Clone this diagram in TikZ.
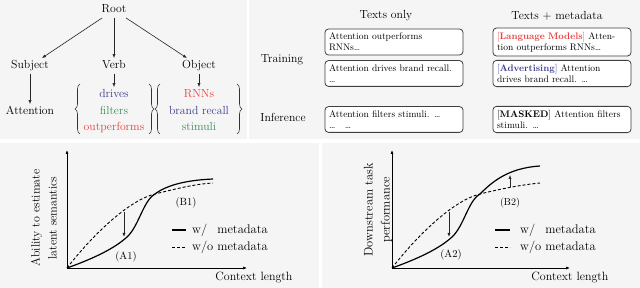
\documentclass[tikz,border=0pt]{standalone}
\usetikzlibrary{arrows.meta,decorations.pathreplacing}
\definecolor{panelgray}{HTML}{F5F5F5}
\definecolor{myred}{HTML}{E8403C}
\definecolor{myblue}{HTML}{3B3B8F}
\definecolor{mygreen}{HTML}{3A8A5C}
\newcommand\tlfont{\fontsize{11.7}{14}\selectfont}
\newcommand\boxfont{\fontsize{9.5}{11}\selectfont}
\newcommand\axfont{\fontsize{12}{17}\selectfont}
\newcommand\legfont{\fontsize{12.5}{14}\selectfont}
\newcommand\ptfont{\fontsize{10.5}{12}\selectfont}
\begin{document}
\begin{tikzpicture}[x=1pt,y=-1pt,
  panel/.style={fill=panelgray,draw=none},
  word/.style={font=\tlfont,inner sep=2.5pt,text height=8pt,text depth=2.5pt},
  arr/.style={-{Latex[length=4pt,width=3.2pt]},line width=0.6pt,black!85},
  txtbox/.style={draw=black!75,line width=0.8pt,rounded corners=3.5pt,fill=white,
    minimum width=138pt,minimum height=24pt,text width=130pt,align=left,
    inner sep=4pt,font=\boxfont},
  hdr/.style={font=\tlfont},
  axis/.style={-{Latex[length=4pt,width=3pt]},line width=0.7pt},
  solidc/.style={line width=1.2pt},
  dashc/.style={line width=0.9pt,dash pattern=on 3pt off 2pt},
  brc/.style={decorate,decoration={brace,amplitude=5pt},line width=0.6pt,black!80}]
\useasboundingbox (0,0) rectangle (640,288);
\fill[white] (0,0) rectangle (640,288);
\fill[panel] (0,0) rectangle (247,139);
\fill[panel] (249,0) rectangle (640,139);
\fill[panel] (0,143) rectangle (319,288);
\fill[panel] (322,143) rectangle (640,288);

% ---------- top-left tree ----------
\node[word] (root) at (114,10) {Root};
\node[word] (subj) at (30,66) {Subject};
\node[word] (verb) at (114,66) {Verb};
\node[word] (obj) at (199,66) {Object};
\node[word] (att) at (30,112) {Attention};
\node[word,text=myblue] (drives) at (114,95) {drives};
\node[word,text=mygreen] (filters) at (114,112) {filters};
\node[word,text=myred] (outp) at (114,128) {outperforms};
\node[word,text=myred] (rnns) at (199,95) {RNNs};
\node[word,text=myblue] (brand) at (199,112) {brand recall};
\node[word,text=mygreen] (stim) at (199,128) {stimuli};
\draw[arr] (root) -- (subj);
\draw[arr] (root) -- (verb);
\draw[arr] (root) -- (obj);
\draw[arr] (subj) -- (att);
\draw[arr] (verb) -- (drives);
\draw[arr] (obj) -- (rnns);
\draw[brc] (80,134) -- (80,84);
\draw[brc] (149,84) -- (149,134);
\draw[brc] (160,134) -- (160,84);
\draw[brc] (237,84) -- (237,134);

% ---------- top-right table ----------
\node[hdr] (h1) at (386,16) {Texts only};
\node[hdr] (h2) at (557,16) {Texts + metadata};
\node[hdr] (train) at (282,60) {Training};
\node[hdr] (infer) at (283,117) {Inference};
\node[txtbox] (t1) at (394,42) {Attention outperforms\\RNNs\ldots};
\node[txtbox] (t2) at (394,73.5) {Attention drives brand recall.\\\ldots};
\node[txtbox] (t3) at (394,119.5) {Attention filters stimuli. \ldots\\\ldots\quad\ldots};
\node[txtbox] (m1) at (562,42) {\textcolor{myred}{[\textbf{Language Models}]} Atten-\\tion outperforms RNNs\ldots};
\node[txtbox] (m2) at (562,73.5) {\textcolor{myblue}{[\textbf{Advertising}]} Attention\\drives brand recall. \ldots};
\node[txtbox] (m3) at (562,119.5) {[\textbf{MASKED}] Attention filters\\stimuli. \ldots};

% ---------- bottom-left plot ----------
\coordinate (o1) at (67,268);
\coordinate (y1) at (67,150);
\coordinate (x1) at (247,268);
\draw[axis] (o1) -- (y1);
\draw[axis] (o1) -- (x1);
\draw[solidc] (o1) .. controls (95,258) and (115,248) .. (127,237)
  .. controls (139,226) and (143,201) .. (155,194)
  .. controls (168,184) and (190,180) .. (213,179);
\draw[dashc] (o1) .. controls (95,232) and (130,200) .. (155,194)
  .. controls (175,189) and (195,184) .. (213,183);
\coordinate (a1s) at (124,212);
\coordinate (a1e) at (124,237);
\draw[arr,line width=0.8pt] (a1s) -- (a1e);
\node[font=\ptfont] (A1) at (126,257) {(A1)};
\node[font=\ptfont] (B1) at (186,203) {(B1)};
\coordinate (l1a) at (172,230); \coordinate (l1b) at (186,230);
\coordinate (l2a) at (172,247); \coordinate (l2b) at (186,247);
\draw[solidc] (l1a) -- (l1b);
\draw[dashc] (l2a) -- (l2b);
\node[font=\legfont,anchor=west,inner sep=0pt] (lg1) at (192,230) {w/\phantom{o} metadata};
\node[font=\legfont,anchor=west,inner sep=0pt] (lg2) at (192,247) {w/o metadata};
\node[font=\axfont] (cl1) at (254,278) {Context length};
\node[font=\axfont,rotate=90,align=center] (yl1) at (44,218) {Ability to estimate\\latent semantics};

% ---------- bottom-right plot ----------
\coordinate (o2) at (392,268);
\coordinate (y2) at (392,150);
\coordinate (x2) at (570,268);
\draw[axis] (o2) -- (y2);
\draw[axis] (o2) -- (x2);
\draw[solidc] (o2) .. controls (420,258) and (440,248) .. (452,237)
  .. controls (464,226) and (468,201) .. (480,194)
  .. controls (492,182) and (508,168) .. (540,166);
\draw[dashc] (o2) .. controls (420,232) and (455,200) .. (480,194)
  .. controls (500,189) and (520,185) .. (540,183);
\coordinate (a2s) at (449,212);
\coordinate (a2e) at (449,237);
\draw[arr,line width=0.8pt] (a2s) -- (a2e);
\coordinate (b2s) at (510,187);
\coordinate (b2e) at (510,175);
\draw[arr] (b2s) -- (b2e);
\node[font=\ptfont] (A2) at (451,255) {(A2)};
\node[font=\fontsize{10}{12}\selectfont] (B2) at (510,203) {(B2)};
\coordinate (l3a) at (495,230); \coordinate (l3b) at (510,230);
\coordinate (l4a) at (495,247); \coordinate (l4b) at (510,247);
\draw[solidc] (l3a) -- (l3b);
\draw[dashc] (l4a) -- (l4b);
\node[font=\legfont,anchor=west,inner sep=0pt] (lg3) at (520,230) {w/\phantom{o} metadata};
\node[font=\legfont,anchor=west,inner sep=0pt] (lg4) at (520,247) {w/o metadata};
\node[font=\axfont] (cl2) at (570,278) {Context length};
\node[font=\fontsize{12.5}{17}\selectfont,rotate=90,align=center] (yl2) at (378,210) {Downstream task\\performance};
\end{tikzpicture}
\end{document}
